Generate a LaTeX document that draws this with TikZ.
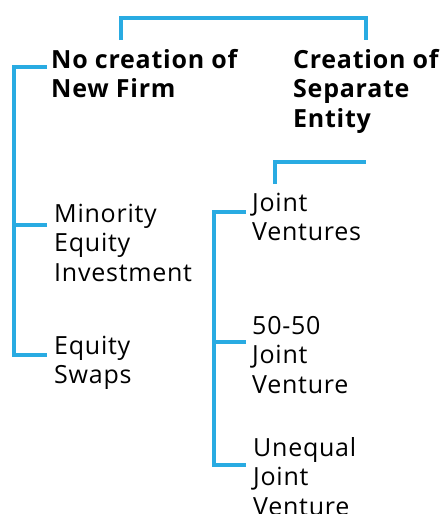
\documentclass[tikz,border=0pt]{standalone}
\usepackage{fontspec}
\setmainfont[LetterSpace=3]{Open Sans}
\definecolor{brace}{RGB}{41,171,226}

\begin{document}
\begin{tikzpicture}[x=1pt, y=-1pt, anchor=base west, inner sep=0pt,
  every node/.style={align=left, font=\fontsize{25}{29.5}\selectfont},
  head/.style={font=\fontsize{25}{29.5}\selectfont\bfseries},
  link/.style={draw=brace, line width=4pt}]
  \useasboundingbox (0,0) rectangle (445,514);
  % the two kinds of alliance (placed by the baseline of their last line)
  \node[head] (nofirm) at (51,97.5) {No creation of\\New Firm};
  \node[head] (newentity) at (293,127) {Creation of\\Separate\\Entity};
  % no new firm
  \node (minority) at (54,281) {Minority\\Equity\\Investment};
  \node (swaps) at (54,383.5) {Equity\\Swaps};
  % separate entity
  \node (jv) at (252,240.5) {Joint\\Ventures};
  \node (equal) at (252,393) {50-50\\Joint\\Venture};
  \node (unequal) at (253,515) {Unequal\\Joint\\Venture};
  % brackets
  \coordinate (topl) at (121,40);
  \coordinate (topr) at (366,40);
  \draw[link] (topl) -- ++(0,-22) -| (topr);
  \coordinate (lt) at (47,67);
  \coordinate (lm) at (47,225);
  \coordinate (lb) at (47,355);
  \draw[link] (lt) -- ++(-33,0) |- (lb);
  \draw[link] (lm) -- ++(-33,0);
  \coordinate (jt) at (275,184);
  \coordinate (jr) at (366,162);
  \draw[link] (jt) |- (jr);
  \coordinate (ra) at (246,212);
  \coordinate (rb) at (246,342);
  \coordinate (rc) at (246,465);
  \draw[link] (ra) -- ++(-32,0) |- (rc);
  \draw[link] (rb) -- ++(-32,0);
\end{tikzpicture}
\end{document}
